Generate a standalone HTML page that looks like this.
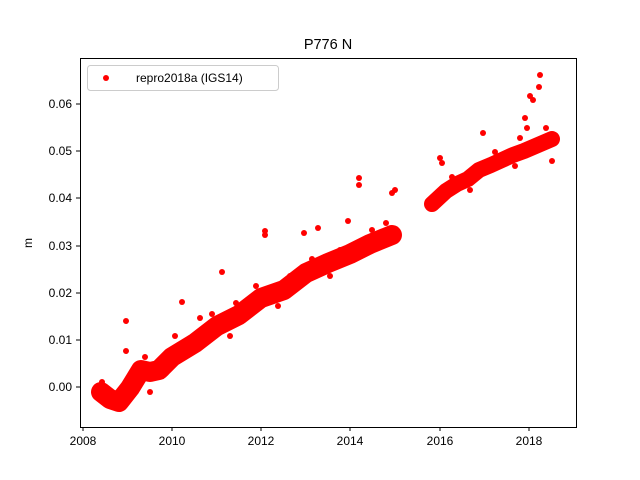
<!DOCTYPE html>
<html><head><meta charset="utf-8"><style>body{margin:0;background:#fff}svg{display:block}</style></head><body>
<svg width="640" height="480" xmlns="http://www.w3.org/2000/svg" font-family="Liberation Sans, DejaVu Sans, sans-serif">
<rect width="640" height="480" fill="#fff"/>
<text x="328" y="49" font-size="14.5" text-anchor="middle">P776 N</text>
<g fill="none" stroke="red" stroke-linejoin="round" stroke-linecap="round">
<polyline stroke-width="20" points="101,392 110,399 119,402 130,388 141,370 150,372 159,370 172,357 195,343 217,326 239,315 261,298 284,290 306,273 328,263 350,254 370,244 392,235"/>
<polyline stroke-width="16" points="432,204 446,191 457,184 468,179 479,170 491,165 502,160 513,155 524,151 538,145 552,139"/>
</g>
<g fill="red">
<circle cx="102" cy="382" r="3"/><circle cx="126" cy="321" r="3"/><circle cx="126" cy="351" r="3"/><circle cx="150" cy="392" r="3"/>
<circle cx="175" cy="336" r="3"/><circle cx="182" cy="302" r="3"/><circle cx="200" cy="318" r="3"/><circle cx="222" cy="272" r="3"/>
<circle cx="265" cy="231" r="3"/><circle cx="265" cy="235" r="3"/><circle cx="304" cy="233" r="3"/><circle cx="318" cy="228" r="3"/>
<circle cx="348" cy="221" r="3"/><circle cx="359" cy="178" r="3"/><circle cx="359" cy="185" r="3"/><circle cx="392" cy="193" r="3"/><circle cx="395" cy="190" r="3"/>
<circle cx="440" cy="158" r="3"/><circle cx="442" cy="163" r="3"/><circle cx="483" cy="133" r="3"/><circle cx="540" cy="75" r="3"/>
<circle cx="539" cy="87" r="3"/><circle cx="530" cy="96" r="3"/><circle cx="533" cy="100" r="3"/><circle cx="527" cy="128" r="3"/><circle cx="525" cy="118" r="3"/><circle cx="552" cy="161" r="3"/>
<circle cx="145" cy="357" r="3"/><circle cx="190" cy="338" r="3"/><circle cx="212" cy="314" r="3"/><circle cx="236" cy="303" r="3"/>
<circle cx="256" cy="286" r="3"/><circle cx="290" cy="276" r="3"/><circle cx="312" cy="259" r="3"/><circle cx="340" cy="250" r="3"/>
<circle cx="372" cy="230" r="3"/><circle cx="386" cy="223" r="3"/><circle cx="166" cy="373" r="3"/><circle cx="230" cy="336" r="3"/>
<circle cx="278" cy="306" r="3"/><circle cx="330" cy="276" r="3"/><circle cx="452" cy="177" r="3"/><circle cx="495" cy="152" r="3"/>
<circle cx="520" cy="138" r="3"/><circle cx="546" cy="128" r="3"/><circle cx="470" cy="190" r="3"/><circle cx="515" cy="166" r="3"/>
</g>
<rect x="80.5" y="58.5" width="496" height="369" fill="none" stroke="#000" stroke-width="1"/>
<g stroke="#000" stroke-width="1">
<line x1="83" y1="427" x2="83" y2="431"/><line x1="172" y1="427" x2="172" y2="431"/><line x1="261" y1="427" x2="261" y2="431"/><line x1="350" y1="427" x2="350" y2="431"/><line x1="440" y1="427" x2="440" y2="431"/><line x1="529" y1="427" x2="529" y2="431"/>
<line x1="76" y1="387" x2="80" y2="387"/><line x1="76" y1="340" x2="80" y2="340"/><line x1="76" y1="293" x2="80" y2="293"/><line x1="76" y1="246" x2="80" y2="246"/><line x1="76" y1="198" x2="80" y2="198"/><line x1="76" y1="151" x2="80" y2="151"/><line x1="76" y1="104" x2="80" y2="104"/>
</g>
<g font-size="12" text-anchor="middle">
<text x="83" y="445">2008</text><text x="172" y="445">2010</text><text x="261" y="445">2012</text><text x="350" y="445">2014</text><text x="440" y="445">2016</text><text x="529" y="445">2018</text>
</g>
<g font-size="12" text-anchor="end">
<text x="72" y="391">0.00</text><text x="72" y="344">0.01</text><text x="72" y="297">0.02</text><text x="72" y="250">0.03</text><text x="72" y="202">0.04</text><text x="72" y="155">0.05</text><text x="72" y="108">0.06</text>
</g>
<text x="32" y="243" font-size="12" text-anchor="middle" transform="rotate(-90 32 243)">m</text>
<rect x="87.5" y="65.5" width="191" height="25" rx="3" fill="#fff" fill-opacity="0.8" stroke="#ccc"/>
<circle cx="106" cy="78" r="3" fill="red"/>
<text x="136" y="82" font-size="12">repro2018a (IGS14)</text>
</svg>
</body></html>
